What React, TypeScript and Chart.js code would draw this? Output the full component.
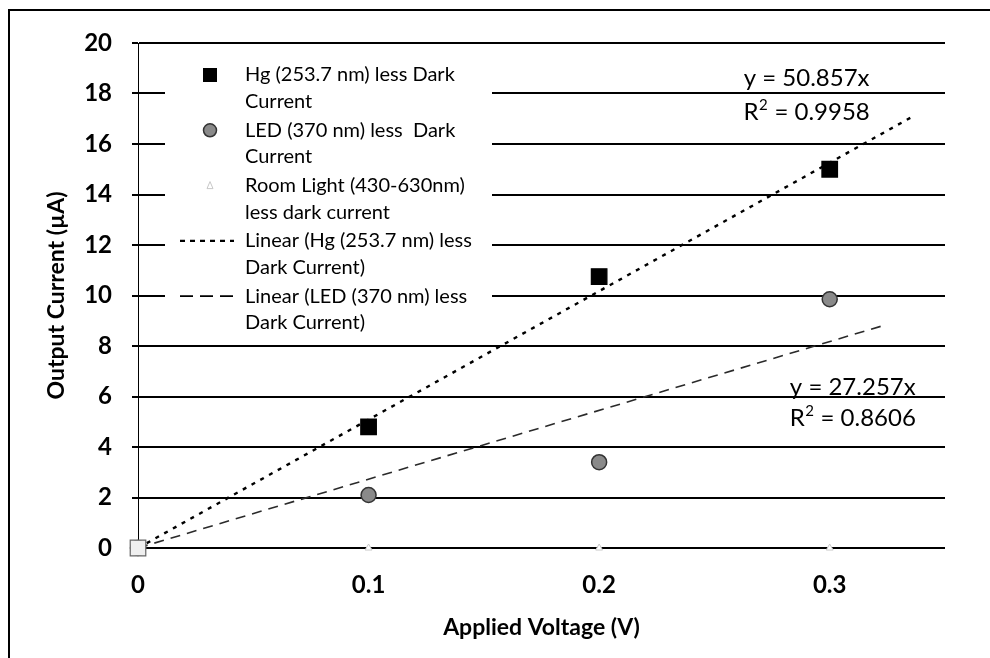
import React, { useEffect, useRef } from "react";
import { Chart, registerables } from "chart.js";

Chart.register(...registerables);

// ---- data ----
const voltages = [0, 0.1, 0.2, 0.3];
const hgCurrent = [0, 4.8, 10.75, 15.0];
const ledCurrent = [0, 2.1, 3.4, 9.85];
const roomCurrent = [0, 0, 0, 0];

const hgTrendX = [0, 0.337];
const hgTrendY = [0, 17.14];
const ledTrendX = [0, 0.324];
const ledTrendY = [0, 8.83];

const seriesNames = [
  "Hg (253.7 nm) less Dark Current",
  "LED (370 nm) less  Dark Current",
  "Room Light (430-630nm) less dark current",
  "Linear (Hg (253.7 nm) less Dark Current)",
  "Linear (LED (370 nm) less Dark Current)",
];
const legendLines = [
  ["Hg (253.7 nm) less Dark", "Current"],
  ["LED (370 nm) less  Dark", "Current"],
  ["Room Light (430-630nm)", "less dark current"],
  ["Linear (Hg (253.7 nm) less", "Dark Current)"],
  ["Linear (LED (370 nm) less", "Dark Current)"],
];

const xTickValues = [0, 0.1, 0.2, 0.3];
const yTickStep = 2;
const yMin = 0;
const yMax = 20;
const xMin = 0;
const xMax = 0.35;

const hgEquation = ["y = 50.857x", "R\u00B2 = 0.9958"];
const hgEquationAt = { x: 0.29, y: [18.6, 17.27] };
const ledEquation = ["y = 27.257x", "R\u00B2 = 0.8606"];
const ledEquationAt = { x: 0.31, y: [6.38, 5.15] };

const xTitle = "Applied Voltage (V)";
const yTitle = "Output Current (\u00B5A)";

const FONT = 'Lato, "Liberation Sans", sans-serif';

const legendPlugin = {
  id: "insideLegend",
  afterDatasetsDraw(chart: any) {
    const { ctx, chartArea } = chart;
    const bx = chartArea.left + 27;
    const by = chartArea.top + 7;
    ctx.save();
    ctx.fillStyle = "#fff";
    ctx.fillRect(bx, by, 327, 288);
    ctx.font = `20px ${FONT}`;
    ctx.textBaseline = "middle";
    ctx.fillStyle = "#000";
    const mx = chartArea.left + 72;
    const tx = chartArea.left + 107;
    legendLines.forEach((lines, i) => {
      const y0 = chartArea.top + 32 + i * 55.3;
      ctx.save();
      if (i === 0) {
        ctx.fillStyle = "#000";
        ctx.fillRect(mx - 7, y0 - 7, 14, 14);
      } else if (i === 1) {
        ctx.beginPath();
        ctx.arc(mx, y0, 6.5, 0, Math.PI * 2);
        ctx.fillStyle = "#8a8a8a";
        ctx.fill();
        ctx.lineWidth = 1.5;
        ctx.strokeStyle = "#333";
        ctx.stroke();
      } else if (i === 2) {
        ctx.beginPath();
        ctx.moveTo(mx, y0 - 4);
        ctx.lineTo(mx + 3, y0 + 3);
        ctx.lineTo(mx - 3, y0 + 3);
        ctx.closePath();
        ctx.strokeStyle = "#c8c8c8";
        ctx.lineWidth = 1;
        ctx.stroke();
      } else {
        ctx.beginPath();
        ctx.moveTo(mx - 30, y0);
        ctx.lineTo(mx + 24, y0);
        ctx.strokeStyle = "#000";
        if (i === 3) {
          ctx.setLineDash([5, 5]);
          ctx.lineWidth = 2.2;
        } else {
          ctx.setLineDash([13, 7]);
          ctx.lineWidth = 1.8;
        }
        ctx.stroke();
      }
      ctx.restore();
      ctx.fillStyle = "#000";
      lines.forEach((t, j) => {
        ctx.fillText(t, tx, y0 + j * 26.5);
      });
    });
    ctx.restore();
  },
};

const SIZE_EQ = 24;

function drawWithSuperscript(ctx: any, text: string, cx: number, cy: number) {
  const parts = text.split("\u00B2");
  const supFont = `${Math.round(SIZE_EQ * 0.62)}px ${FONT}`;
  const mainFont = `${SIZE_EQ}px ${FONT}`;
  ctx.font = mainFont;
  const w0 = ctx.measureText(parts[0]).width;
  let w1 = 0;
  if (parts.length > 1) {
    ctx.font = supFont;
    w1 = ctx.measureText("2").width + 1;
  }
  ctx.font = mainFont;
  const w2 = parts.length > 1 ? ctx.measureText(parts[1]).width : 0;
  let x = cx - (w0 + w1 + w2) / 2;
  ctx.textAlign = "left";
  ctx.textBaseline = "middle";
  ctx.fillText(parts[0], x, cy);
  x += w0;
  if (parts.length > 1) {
    ctx.font = supFont;
    ctx.fillText("2", x + 0.5, cy - SIZE_EQ * 0.28);
    x += w1;
    ctx.font = mainFont;
    ctx.fillText(parts[1], x, cy);
  }
}

const equationPlugin = {
  id: "equations",
  afterDraw(chart: any) {
    const { ctx, scales } = chart;
    const xs = scales.x;
    const ys = scales.y;
    ctx.save();
    ctx.fillStyle = "#000";
    const drawEq = (lines: string[], at: { x: number; y: number[] }) => {
      lines.forEach((t, i) => {
        drawWithSuperscript(ctx, t, xs.getPixelForValue(at.x), ys.getPixelForValue(at.y[i]));
      });
    };
    drawEq(hgEquation, hgEquationAt);
    drawEq(ledEquation, ledEquationAt);
    ctx.restore();
  },
};

export default function App() {
  const canvasRef = useRef<HTMLCanvasElement | null>(null);

  useEffect(() => {
    if (!canvasRef.current) return;
    const toPts = (xs: number[], ys: number[]) => xs.map((x, i) => ({ x, y: ys[i] }));
    const chart = new Chart(canvasRef.current, {
      type: "scatter",
      data: {
        datasets: [
          {
            label: seriesNames[3],
            data: toPts(hgTrendX, hgTrendY),
            showLine: true,
            borderColor: "#000",
            borderWidth: 2.4,
            borderDash: [4, 6],
            pointRadius: 0,
            order: 3,
          } as any,
          {
            label: seriesNames[4],
            data: toPts(ledTrendX, ledTrendY),
            showLine: true,
            borderColor: "#2a2a2a",
            borderWidth: 1.6,
            borderDash: [10, 7],
            pointRadius: 0,
            order: 4,
          } as any,
          {
            label: seriesNames[2],
            data: toPts(voltages, roomCurrent),
            pointStyle: "triangle",
            pointRadius: 4,
            backgroundColor: "#fff",
            borderColor: "#c8c8c8",
            borderWidth: 1,
            clip: false,
            order: 2,
          } as any,
          {
            label: seriesNames[1],
            data: toPts(voltages, ledCurrent),
            pointStyle: "circle",
            pointRadius: 7.5,
            backgroundColor: "#8a8a8a",
            borderColor: "#333",
            borderWidth: 1.5,
            clip: false,
            order: 1,
          } as any,
          {
            label: seriesNames[0],
            data: toPts(voltages, hgCurrent),
            pointStyle: "rect",
            pointRadius: 11,
            backgroundColor: voltages.map((v) => (v === 0 ? "#efefef" : "#000")),
            borderColor: voltages.map((v) => (v === 0 ? "#666" : "#000")),
            borderWidth: 1.2,
            clip: false,
            order: 0,
          } as any,
        ],
      },
      options: {
        animation: false,
        responsive: false,
        layout: { padding: { top: 43, right: 45, left: 0, bottom: 0 } },
        plugins: {
          legend: { display: false },
          tooltip: { enabled: false },
        },
        scales: {
          x: {
            type: "linear",
            min: xMin,
            max: xMax,
            afterFit: (s: any) => {
              s.height = 110;
            },
            afterBuildTicks: (s: any) => {
              s.ticks = xTickValues.map((v) => ({ value: v }));
            },
            grid: { display: false, drawTicks: false, tickLength: 0 },
            border: { display: false },
            ticks: {
              padding: 23,
              color: "#000",
              font: { family: FONT, size: 24, weight: "bold" },
              callback: (v: any) => String(v),
            },
            title: {
              display: true,
              text: xTitle,
              color: "#000",
              font: { family: FONT, size: 23, weight: "bold" },
              padding: { top: 0, bottom: 17 },
            },
          },
          y: {
            type: "linear",
            min: yMin,
            max: yMax,
            afterFit: (s: any) => {
              s.width = 138;
            },
            grid: {
              color: "#000",
              lineWidth: 2,
              drawTicks: true,
              tickLength: 6,
            },
            border: { display: true, color: "#000", width: 1 },
            ticks: {
              stepSize: yTickStep,
              padding: 20,
              color: "#000",
              font: { family: FONT, size: 24, weight: "bold" },
            },
            title: {
              display: true,
              text: yTitle,
              color: "#000",
              font: { family: FONT, size: 23, weight: "bold" },
              padding: { top: 43, bottom: 0 },
            },
          },
        },
      },
      plugins: [legendPlugin, equationPlugin],
    });
    return () => chart.destroy();
  }, []);

  return (
    <div
      style={{
        position: "fixed",
        left: 0,
        top: 0,
        width: 990,
        height: 658,
        background: "#fff",
        overflow: "hidden",
      }}
    >
      <div
        style={{
          position: "absolute",
          left: 8,
          top: 9,
          width: 1000,
          height: 700,
          borderLeft: "2px solid #000",
          borderTop: "2px solid #000",
        }}
      />
      <canvas
        ref={canvasRef}
        width={990}
        height={658}
        style={{ position: "absolute", left: 0, top: 0, width: 990, height: 658 }}
      />
    </div>
  );
}
